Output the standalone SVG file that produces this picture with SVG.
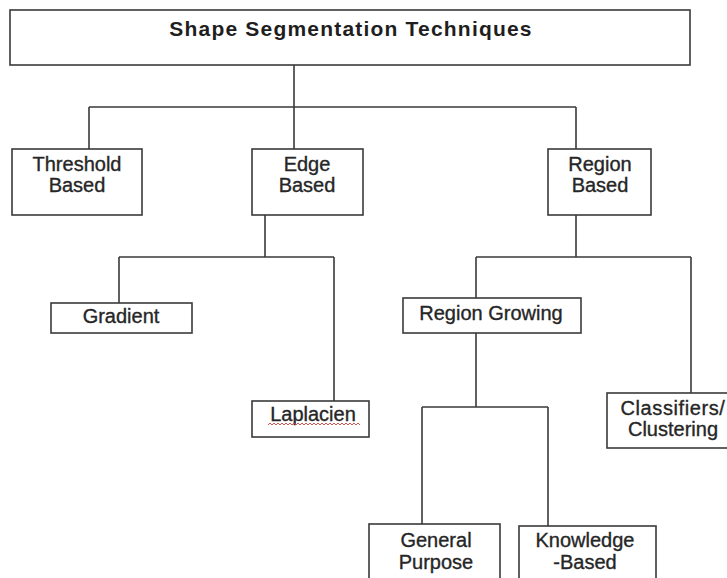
<svg xmlns="http://www.w3.org/2000/svg" width="727" height="578" viewBox="0 0 727 578">
<style>
.box{fill:#fff;stroke:#3a3a3a;stroke-width:1.6}
.lbl{font-family:"Liberation Sans",Arial,sans-serif;font-size:20px;fill:#262626;stroke:#262626;stroke-width:0.35;text-anchor:middle}
.title{font-family:"Liberation Sans",Arial,sans-serif;font-size:21px;font-weight:bold;fill:#1e1e1e;letter-spacing:1.2px;text-anchor:middle}
.con{fill:none;stroke:#3a3a3a;stroke-width:1.6}
</style>
<rect width="727" height="578" fill="#fff"/>
<g id="connectors" class="con">
<path d="M294 65V107M89 107H576M89 107V149M294 107V149M576 107V149"/>
<path d="M265 215V257M119 257H334M119 257V303M334 257V401"/>
<path d="M576 215V257M476 257H691M476 257V298M691 257V393"/>
<path d="M476 333V407M422 407H548M422 407V524M548 407V526"/>
</g>
<g id="title"><rect class="box" x="10" y="10" width="680" height="55"/><text class="title" x="351" y="36">Shape Segmentation Techniques</text></g>
<g id="threshold"><rect class="box" x="12" y="149" width="130" height="66"/><text class="lbl" x="77" y="171">Threshold</text><text class="lbl" x="77" y="192">Based</text></g>
<g id="edge"><rect class="box" x="252" y="149" width="111" height="66"/><text class="lbl" x="307" y="171">Edge</text><text class="lbl" x="307" y="192">Based</text></g>
<g id="region"><rect class="box" x="548" y="149" width="103" height="66"/><text class="lbl" x="600" y="171">Region</text><text class="lbl" x="600" y="192">Based</text></g>
<g id="gradient"><rect class="box" x="51" y="303" width="141" height="30"/><text class="lbl" x="121" y="323">Gradient</text></g>
<g id="laplacien"><rect class="box" x="252" y="401" width="117" height="36"/><text class="lbl" x="313" y="421">Laplacien</text><path d="M268 425l2 -2l2 2l2 -2l2 2l2 -2l2 2l2 -2l2 2l2 -2l2 2l2 -2l2 2l2 -2l2 2l2 -2l2 2l2 -2l2 2l2 -2l2 2l2 -2l2 2l2 -2l2 2l2 -2l2 2l2 -2l2 2l2 -2l2 2l2 -2l2 2l2 -2l2 2l2 -2l2 2l2 -2l2 2l2 -2l2 2l2 -2l2 2l2 -2l2 2l2 -2l2 2" fill="none" stroke="#d04040" stroke-width="0.9"/></g>
<g id="regionGrowing"><rect class="box" x="403" y="298" width="178" height="35"/><text class="lbl" x="491" y="320">Region Growing</text></g>
<g id="classifiers"><rect class="box" x="607" y="393" width="130" height="55"/><text class="lbl" x="673" y="415" letter-spacing="0.6">Classifiers/</text><text class="lbl" x="673" y="436">Clustering</text></g>
<g id="general"><rect class="box" x="369" y="524" width="131" height="70"/><text class="lbl" x="436" y="547">General</text><text class="lbl" x="436" y="569">Purpose</text></g>
<g id="knowledge"><rect class="box" x="519" y="526" width="137" height="70"/><text class="lbl" x="585" y="547">Knowledge</text><text class="lbl" x="585" y="569">-Based</text></g>
</svg>
